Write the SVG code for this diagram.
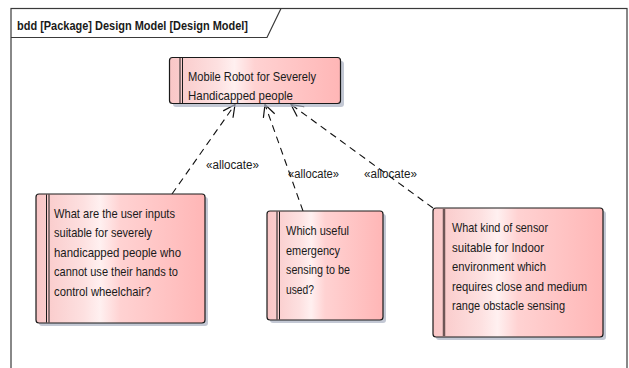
<svg xmlns="http://www.w3.org/2000/svg" width="629" height="368" viewBox="0 0 629 368">
<style>
.frame{fill:#ffffff;stroke:#3a3a3a;stroke-width:1.2}
.hdr{font-family:"Liberation Sans",Arial,sans-serif;font-size:13px;font-weight:bold;fill:#1a1a1a}
.box{fill:url(#pink);stroke:#1a1a1a;stroke-width:1.2}
.shadow{fill:#a9b1c2;opacity:0.7}
.bar{stroke:#1a1a1a;stroke-width:1}
.bar2{stroke:#6e5656;stroke-width:2.5}
.t{font-family:"Liberation Sans",Arial,sans-serif;font-size:13px;fill:#1a1a1a}
.lbl{font-family:"Liberation Sans",Arial,sans-serif;font-size:12px;fill:#1a1a1a}
.dep{fill:none;stroke:#111;stroke-width:1.1;stroke-dasharray:7 5}
</style>
<defs>
<linearGradient id="pink" x1="0" y1="0" x2="1" y2="0">
<stop offset="0" stop-color="#f9c6c6"/>
<stop offset="0.28" stop-color="#fde0e0"/>
<stop offset="0.38" stop-color="#fff0f0"/>
<stop offset="0.5" stop-color="#ffd2d2"/>
<stop offset="1" stop-color="#ffb6b6"/>
</linearGradient>
<marker id="open" markerWidth="16" markerHeight="16" refX="13" refY="8" orient="auto" markerUnits="userSpaceOnUse">
<path d="M1,2 L13,8 L1,14" fill="none" stroke="#111" stroke-width="1.2"/>
</marker>
</defs>

<g id="frame">
<rect class="frame" x="11" y="8.5" width="616" height="380"/>
<path d="M11,37.5 H267 L281,8.5" fill="none" stroke="#3a3a3a" stroke-width="1.2"/>
<text class="hdr" x="17" y="30" textLength="231" lengthAdjust="spacingAndGlyphs">bdd [Package] Design Model [Design Model]</text>
</g>

<g id="connectors">
<line class="dep" x1="172" y1="194" x2="235" y2="104.5" marker-end="url(#open)"/>
<line class="dep" x1="303" y1="211" x2="265" y2="104.5" marker-end="url(#open)"/>
<line class="dep" x1="433" y1="208" x2="291" y2="104.5" marker-end="url(#open)"/>
<text class="lbl" x="206" y="169" textLength="53" lengthAdjust="spacingAndGlyphs">«allocate»</text>
<text class="lbl" x="288" y="178" textLength="51" lengthAdjust="spacingAndGlyphs">«allocate»</text>
<text class="lbl" x="364" y="178" textLength="53" lengthAdjust="spacingAndGlyphs">«allocate»</text>
</g>

<g id="node-robot">
<rect class="shadow" x="173" y="61" width="171" height="46" rx="3"/>
<rect class="box" x="169.5" y="57.5" width="171" height="46" rx="3"/>
<line class="bar" x1="180" y1="58" x2="180" y2="103"/>
<line class="bar" x1="182.5" y1="58" x2="182.5" y2="103"/>
<text class="t" x="188" y="80.5" textLength="128" lengthAdjust="spacingAndGlyphs">Mobile Robot for Severely</text>
<text class="t" x="188" y="100" textLength="105" lengthAdjust="spacingAndGlyphs">Handicapped people</text>
</g>

<g id="node-inputs">
<rect class="shadow" x="39" y="197" width="169" height="129" rx="3"/>
<rect class="box" x="36" y="194" width="169" height="129" rx="3"/>
<line class="bar" x1="46.5" y1="194.5" x2="46.5" y2="322.5"/>
<line class="bar" x1="49" y1="194.5" x2="49" y2="322.5"/>
<text class="t" x="54" y="217.5" textLength="121" lengthAdjust="spacingAndGlyphs">What are the user inputs</text>
<text class="t" x="54" y="237" textLength="98" lengthAdjust="spacingAndGlyphs">suitable for severely</text>
<text class="t" x="54" y="256.5" textLength="127" lengthAdjust="spacingAndGlyphs">handicapped people who</text>
<text class="t" x="54" y="276" textLength="124" lengthAdjust="spacingAndGlyphs">cannot use their hands to</text>
<text class="t" x="54" y="295.5" textLength="97" lengthAdjust="spacingAndGlyphs">control wheelchair?</text>
</g>

<g id="node-emergency">
<rect class="shadow" x="270" y="214" width="116" height="109" rx="3"/>
<rect class="box" x="267" y="211" width="116" height="109" rx="3"/>
<line class="bar" x1="277" y1="211.5" x2="277" y2="319.5"/>
<line class="bar" x1="279.5" y1="211.5" x2="279.5" y2="319.5"/>
<text class="t" x="286" y="235" textLength="63" lengthAdjust="spacingAndGlyphs">Which useful</text>
<text class="t" x="286" y="254.5" textLength="54" lengthAdjust="spacingAndGlyphs">emergency</text>
<text class="t" x="286" y="274" textLength="64" lengthAdjust="spacingAndGlyphs">sensing to be</text>
<text class="t" x="286" y="293.5" textLength="28" lengthAdjust="spacingAndGlyphs">used?</text>
</g>

<g id="node-sensor">
<rect class="shadow" x="436" y="211" width="170" height="129" rx="3"/>
<rect class="box" x="433" y="208" width="170" height="129" rx="3"/>
<line class="bar2" x1="444" y1="208.8" x2="444" y2="336.2"/>
<text class="t" x="452" y="232" textLength="96" lengthAdjust="spacingAndGlyphs">What kind of sensor</text>
<text class="t" x="452" y="251.5" textLength="92" lengthAdjust="spacingAndGlyphs">suitable for Indoor</text>
<text class="t" x="452" y="271" textLength="94" lengthAdjust="spacingAndGlyphs">environment which</text>
<text class="t" x="452" y="290.5" textLength="135" lengthAdjust="spacingAndGlyphs">requires close and medium</text>
<text class="t" x="452" y="310" textLength="113" lengthAdjust="spacingAndGlyphs">range obstacle sensing</text>
</g>
</svg>
